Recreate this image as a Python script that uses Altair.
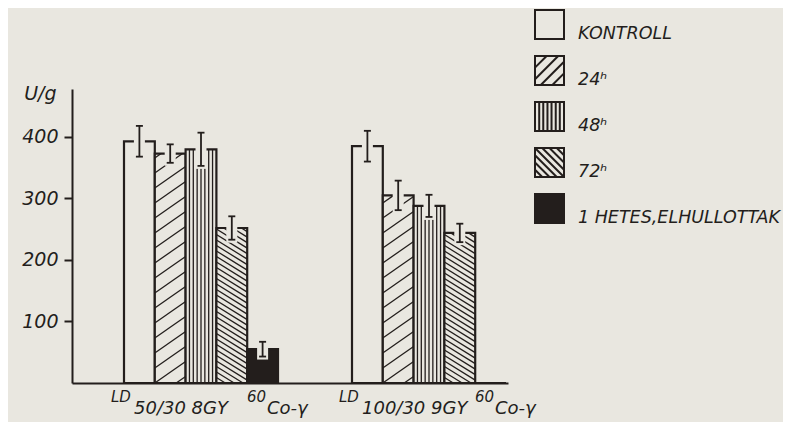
import altair as alt
import numpy as np
import pandas as pd

# ---------------- data ----------------
groups = ["LD50/30 8GY 60Co-γ", "LD100/30 9GY 60Co-γ"]
group_dose = ["50/30 8GY", "100/30 9GY"]
series = ["KONTROLL", "24ʰ", "48ʰ", "72ʰ", "1 HETES,ELHULLOTTAK"]
values_g1 = [393, 373, 380, 252, 55]
errors_g1 = [25, 15, 27, 19, 12]
values_g2 = [385, 305, 288, 244, 0]
errors_g2 = [25, 24, 18, 15, 0]
y_ticks = [100, 200, 300, 400]

# ---------------- style / layout ----------------
PAPER = "#e9e7e0"
INK = "#231e1c"
FONT = "DejaVu Sans"
W, H = 436, 294
Y_MAX = 478
SLOT_PX = 30.8               # one bar width in px
X_MAX = W / SLOT_PX
LEAD = 52 / SLOT_PX          # space between y axis and first bar
GAP = 74 / SLOT_PX           # space between the two groups
PX_Y = H / Y_MAX

rows = []
for g, (vals, errs) in enumerate([(values_g1, errors_g1), (values_g2, errors_g2)]):
    start = LEAD + g * (len(series) + GAP)
    for i, s in enumerate(series):
        rows.append(dict(group=groups[g], series=s, value=vals[i], err=errs[i],
                         x0=start + i, x1=start + i + 1, xc=start + i + 0.5, zero=0))
bars = pd.DataFrame(rows)

grp = pd.DataFrame({
    "group": groups,
    "dose": group_dose,
    "start": [LEAD + g * (len(series) + GAP) for g in range(len(groups))],
    "end": [LEAD + g * (len(series) + GAP) + len(series) for g in range(len(groups))],
})

# hatching computed in pixel space, converted back to data units
HATCH = {"24ʰ": ("slope", 0.7, 15.0), "48ʰ": ("vert", None, 3.85), "72ʰ": ("slope", -0.62, 5.5)}
segs = []
for r in rows:
    spec = HATCH.get(r["series"])
    if spec is None or r["value"] <= 0:
        continue
    u0, u1 = r["x0"] * SLOT_PX, r["x1"] * SLOT_PX
    top = r["value"] * PX_Y
    kind, m, sp = spec
    if kind == "vert":
        n = int(round((u1 - u0) / sp))
        for k in range(1, n):
            u = u0 + k * (u1 - u0) / n
            segs.append((u, 0.0, u, top))
    else:
        w = u1 - u0
        cmin, cmax = min(0, -m * w), max(top, top - m * w)
        for k in range(int(np.floor(cmin / sp)), int(np.ceil(cmax / sp)) + 1):
            c = k * sp
            ua, ub = u0 + (0 - c) / m, u0 + (top - c) / m
            lo, hi = sorted((ua, ub))
            lo, hi = max(lo, u0), min(hi, u1)
            if hi - lo < 0.5:
                continue
            segs.append((lo, m * (lo - u0) + c, hi, m * (hi - u0) + c))
hatch = pd.DataFrame(segs, columns=["u0", "v0", "u1", "v1"])
hatch["hx0"] = hatch.u0 / SLOT_PX
hatch["hx1"] = hatch.u1 / SLOT_PX
hatch["hy0"] = hatch.v0 / PX_Y
hatch["hy1"] = hatch.v1 / PX_Y

eb = bars[bars.err > 0].copy()
eb["lo"] = eb.value - eb.err
eb["hi"] = eb.value + eb.err
eb["gx0"] = eb.xc - 5.5 / SLOT_PX
eb["gx1"] = eb.xc + 5.5 / SLOT_PX
eb["gy0"] = eb.lo - 3 / PX_Y
eb["gy1"] = eb.value + 2 / PX_Y
caps = pd.concat([eb.assign(cy=eb.lo), eb.assign(cy=eb.hi)])
caps["cx0"] = caps.xc - 3.5 / SLOT_PX
caps["cx1"] = caps.xc + 3.5 / SLOT_PX

# ---------------- scales / axes ----------------
xscale = alt.Scale(domain=[0, X_MAX], nice=False, zero=False)
yscale = alt.Scale(domain=[0, Y_MAX], nice=False, zero=True)
xaxis = alt.Axis(labels=False, ticks=False, grid=False, title="", domainColor=INK, domainWidth=2)
yaxis = alt.Axis(values=y_ticks, title="U/g", titleAngle=0, titleAlign="right",
                 titleBaseline="alphabetic", titleX=-16, titleY=10,
                 titleFont=FONT, titleFontSize=19, titleFontStyle="italic",
                 titleFontWeight="normal", titleColor=INK,
                 labelFont=FONT, labelFontSize=19, labelFontStyle="italic", labelColor=INK,
                 labelPadding=6, tickSize=8, tickWidth=2, tickColor=INK,
                 domainColor=INK, domainWidth=2, grid=False)


def X(f):
    return alt.X(f"{f}:Q", scale=xscale, axis=xaxis)


def Y(f):
    return alt.Y(f"{f}:Q", scale=yscale, axis=yaxis)


fill_scale = alt.Scale(domain=series, range=[PAPER, PAPER, PAPER, PAPER, INK])
shape_paths = [
    "M-1,-1H1V1H-1Z",
    "M-1,-1H1V1H-1Z M-1,-0.2L-0.2,-1 M-1,0.6L0.6,-1 M-0.6,1L1,-0.6 M0.2,1L1,0.2",
    "M-1,-1H1V1H-1Z M-0.71,-1V1 M-0.43,-1V1 M-0.14,-1V1 M0.14,-1V1 M0.43,-1V1 M0.71,-1V1",
    "M-1,-1H1V1H-1Z M-1,0.5L-0.5,1 M-1,0L0,1 M-1,-0.5L0.5,1 M-1,-1L1,1 M-0.5,-1L1,0.5 M0,-1L1,0 M0.5,-1L1,-0.5",
    "M-1,-1H1V1H-1Z",
]
shape_scale = alt.Scale(domain=series, range=shape_paths)
stroke_scale = alt.Scale(domain=series, range=[INK] * len(series))
legend = alt.Legend(title=None, orient="none", legendX=462, legendY=-80, padding=0,
                    symbolSize=841, symbolStrokeWidth=2, symbolOpacity=1,
                    labelFont=FONT, labelFontSize=17.5, labelFontStyle="italic", labelColor=INK,
                    labelOffset=13, labelBaseline="top", rowPadding=9, labelLimit=300)

legend_pts = alt.Chart(bars).mark_point(filled=True, opacity=0).encode(
    x=X("xc"), y=Y("zero"),
    fill=alt.Fill("series:N", scale=fill_scale, sort=series, legend=legend),
    shape=alt.Shape("series:N", scale=shape_scale, sort=series, legend=legend),
    stroke=alt.Stroke("series:N", scale=stroke_scale, sort=series, legend=legend),
)

bar_layer = alt.Chart(bars).mark_rect(stroke=INK, strokeWidth=2.2).encode(
    x=X("x0"), x2="x1", y=Y("value"), y2="zero",
    fill=alt.Fill("series:N", scale=fill_scale, sort=series, legend=legend),
)

hatch_layer = alt.Chart(hatch).mark_rule(color=INK, strokeWidth=1.3).encode(
    x=X("hx0"), x2="hx1", y=Y("hy0"), y2="hy1")

gap_layer = alt.Chart(eb).mark_rect(fill=PAPER).encode(
    x=X("gx0"), x2="gx1", y=Y("gy0"), y2="gy1")

err_layer = alt.Chart(eb).mark_rule(color=INK, strokeWidth=1.8).encode(
    x=X("xc"), y=Y("lo"), y2="hi")

cap_layer = alt.Chart(caps).mark_rule(color=INK, strokeWidth=1.8).encode(
    x=X("cx0"), x2="cx1", y=Y("cy"))

txt = dict(font=FONT, fontStyle="italic", color=INK, align="left", baseline="alphabetic")
ld_layer = alt.Chart(grp).mark_text(text="LD", fontSize=15, dx=-13, **txt).encode(
    x=X("start"), y=alt.value(313))
dose_layer = alt.Chart(grp).mark_text(fontSize=18, dx=10, **txt).encode(
    x=X("start"), y=alt.value(325), text="dose:N")
iso_layer = alt.Chart(grp).mark_text(text="60", fontSize=15, dx=-31, **txt).encode(
    x=X("end"), y=alt.value(313))
co_layer = alt.Chart(grp).mark_text(text="Co-γ", fontSize=18, dx=-11, **txt).encode(
    x=X("end"), y=alt.value(325))

chart = alt.layer(
    legend_pts, bar_layer, hatch_layer, gap_layer, err_layer, cap_layer,
    ld_layer, dose_layer, iso_layer, co_layer,
).properties(
    width=W, height=H,
    autosize=alt.AutoSizeParams(type="none"),
    padding={"left": 64, "top": 81, "right": 275, "bottom": 40},
).configure(background=PAPER).configure_view(stroke=None)

chart.save("out.html", embed_options={"renderer": "svg", "actions": False})
